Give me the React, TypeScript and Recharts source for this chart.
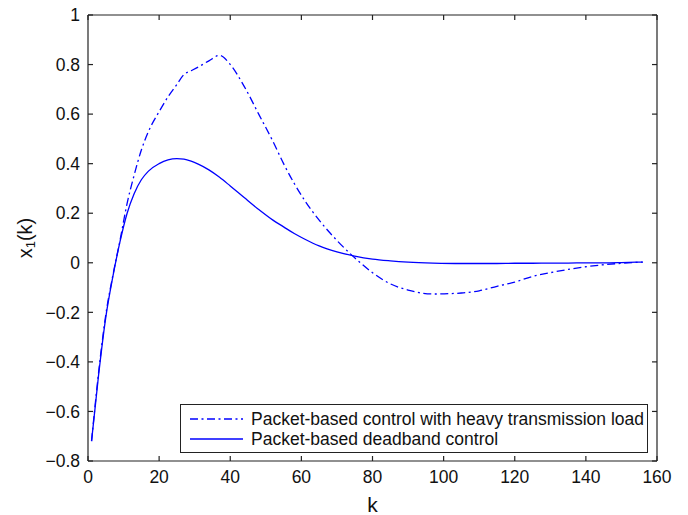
import { LineChart, Line, XAxis, YAxis, Legend, Label } from "recharts";

const kValues = [1, 3, 5, 7, 9, 11, 13, 15, 17, 20, 22.5, 25, 27, 29, 31, 34, 37, 40, 44, 48, 52, 55, 58, 61, 65, 70, 75, 80, 85, 90, 97, 105, 110, 115, 120, 125, 130, 135, 140, 145, 150, 156];

const heavyLoad = [-0.72, -0.44, -0.21, -0.05, 0.09, 0.24, 0.355, 0.455, 0.53, 0.61, 0.67, 0.72, 0.76, 0.775, 0.79, 0.815, 0.837, 0.8, 0.71, 0.6, 0.49, 0.4, 0.32, 0.25, 0.172, 0.09, 0.02, -0.04, -0.085, -0.11, -0.126, -0.122, -0.113, -0.095, -0.078, -0.055, -0.04, -0.027, -0.016, -0.008, -0.002, 0.003];

const deadband = [-0.72, -0.45, -0.22, -0.055, 0.085, 0.2, 0.28, 0.335, 0.37, 0.4, 0.415, 0.42, 0.418, 0.41, 0.398, 0.375, 0.345, 0.31, 0.262, 0.215, 0.172, 0.145, 0.118, 0.095, 0.068, 0.044, 0.027, 0.015, 0.008, 0.003, -0.001, -0.003, -0.003, -0.003, -0.002, -0.002, -0.001, -0.001, 0, 0, 0.001, 0.003];

const xTicks = [0, 20, 40, 60, 80, 100, 120, 140, 160];
const yTicks = [-0.8, -0.6, -0.4, -0.2, 0, 0.2, 0.4, 0.6, 0.8, 1];

const seriesNames = [
  "Packet-based control with heavy transmission load",
  "Packet-based deadband control",
];

const data = kValues.map((k, i) => ({ k, heavy: heavyLoad[i], deadband: deadband[i] }));

const FONT = '"Liberation Sans", Arial, Helvetica, sans-serif';
const BLUE = "#0000ff";
const DASHDOT = "8 3.5 2 3.5";
const AXIS = "#222";

const fmtY = (v: number) => {
  const s = Number.isInteger(v) ? String(v) : v.toFixed(1);
  return s.replace("-", "\u2212");
};

function LegendBox() {
  const rows = [
    { name: seriesNames[0], dash: DASHDOT },
    { name: seriesNames[1], dash: undefined },
  ];
  return (
    <div
      style={{
        boxSizing: "border-box",
        width: 468,
        height: 49,
        border: `1px solid ${AXIS}`,
        background: "#fff",
        paddingTop: 4,
        paddingLeft: 9,
        fontFamily: FONT,
        fontSize: 17.5,
        color: "#111",
      }}
    >
      {rows.map((r) => (
        <div key={r.name} style={{ display: "flex", alignItems: "center", height: 20 }}>
          <svg width={53} height={20} style={{ display: "block", flex: "none" }}>
            <line x1={0} y1={10} x2={53} y2={10} stroke={BLUE} strokeWidth={1.3} strokeDasharray={r.dash} />
          </svg>
          <span style={{ marginLeft: 8, whiteSpace: "nowrap" }}>{r.name}</span>
        </div>
      ))}
    </div>
  );
}

function YTitle(props: any) {
  const vb = props.viewBox || {};
  const cx = vb.x - 3;
  const cy = vb.y + vb.height / 2;
  return (
    <text
      x={cx}
      y={cy}
      transform={`rotate(-90, ${cx}, ${cy})`}
      textAnchor="middle"
      dominantBaseline="central"
      fontFamily={FONT}
      fontSize={20}
      fill="#111"
    >
      x<tspan fontSize={13} dy={5}>1</tspan>
      <tspan dy={-5}>(k)</tspan>
    </text>
  );
}

export default function App() {
  return (
    <div style={{ position: "absolute", left: 0, top: 0, background: "#fff" }}>
      <LineChart width={688} height={515} data={data} margin={{ top: 14, right: 30, bottom: 0, left: 28 }}>
        <XAxis
          xAxisId="bottom"
          dataKey="k"
          type="number"
          domain={[0, 160]}
          ticks={xTicks}
          interval={0}
          height={54}
          tickSize={-5}
          tickMargin={15}
          axisLine={{ stroke: AXIS, strokeWidth: 1.2 }}
          tickLine={{ stroke: AXIS, strokeWidth: 1.2 }}
          tick={{ fill: "#111", fontSize: 17.5, fontFamily: FONT }}
        >
          <Label value="k" position="insideBottom" offset={3} fontSize={21} fontFamily={FONT} fill="#111" />
        </XAxis>
        <XAxis
          xAxisId="top"
          dataKey="k"
          orientation="top"
          type="number"
          domain={[0, 160]}
          ticks={xTicks}
          interval={0}
          height={1}
          tickSize={-5}
          tickFormatter={() => ""}
          axisLine={{ stroke: AXIS, strokeWidth: 1.2 }}
          tickLine={{ stroke: AXIS, strokeWidth: 1.2 }}
          allowDataOverflow
        />
        <YAxis
          yAxisId="left"
          type="number"
          domain={[-0.8, 1]}
          ticks={yTicks}
          interval={0}
          width={60}
          tickSize={-5}
          tickMargin={13}
          tickFormatter={fmtY}
          axisLine={{ stroke: AXIS, strokeWidth: 1.2 }}
          tickLine={{ stroke: AXIS, strokeWidth: 1.2 }}
          tick={{ fill: "#111", fontSize: 17.5, fontFamily: FONT }}
          allowDataOverflow
        >
          <Label content={<YTitle />} />
        </YAxis>
        <YAxis
          yAxisId="right"
          orientation="right"
          type="number"
          domain={[-0.8, 1]}
          ticks={yTicks}
          interval={0}
          width={1}
          tickSize={-5}
          tickFormatter={() => ""}
          axisLine={{ stroke: AXIS, strokeWidth: 1.2 }}
          tickLine={{ stroke: AXIS, strokeWidth: 1.2 }}
          allowDataOverflow
        />
        <Line
          xAxisId="bottom"
          yAxisId="left"
          type="monotone"
          dataKey="heavy"
          name={seriesNames[0]}
          stroke={BLUE}
          strokeWidth={1.3}
          strokeDasharray={DASHDOT}
          dot={false}
          isAnimationActive={false}
        />
        <Line
          xAxisId="bottom"
          yAxisId="left"
          type="monotone"
          dataKey="deadband"
          name={seriesNames[1]}
          stroke={BLUE}
          strokeWidth={1.3}
          dot={false}
          isAnimationActive={false}
        />
        <Line
          xAxisId="top"
          yAxisId="right"
          dataKey="deadband"
          stroke="none"
          dot={false}
          activeDot={false}
          legendType="none"
          isAnimationActive={false}
        />
        <Legend
          layout="vertical"
          align="center"
          verticalAlign="middle"
          content={() => <LegendBox />}
          wrapperStyle={{ left: 180, top: 404, width: 468, height: 49 }}
        />
      </LineChart>
    </div>
  );
}
